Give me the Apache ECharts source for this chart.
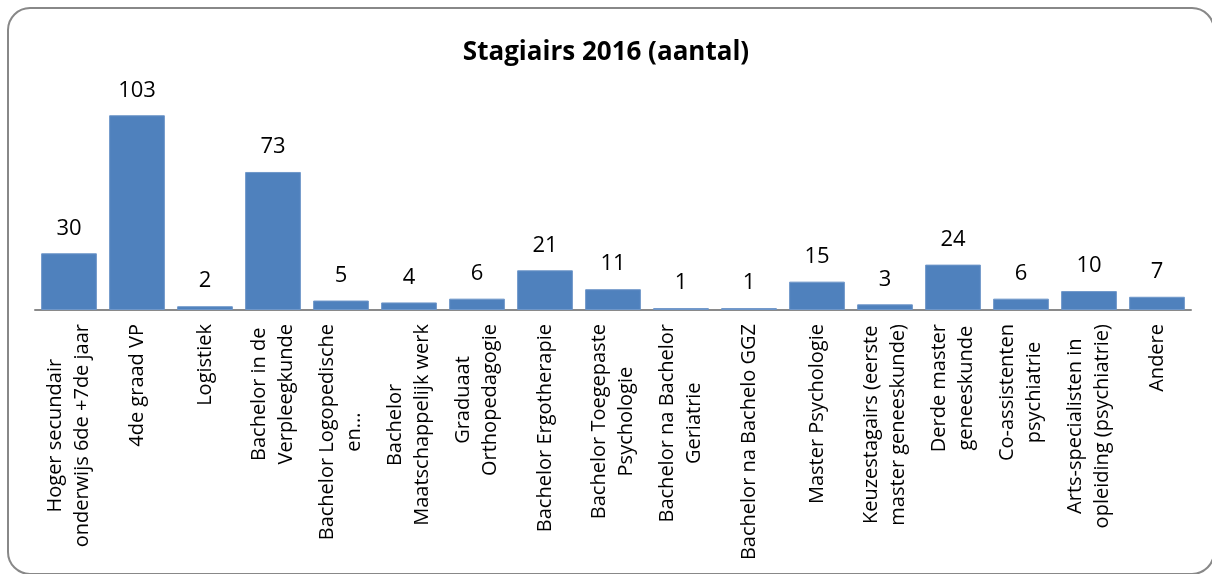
<!DOCTYPE html>
<html>
<head>
<meta charset="utf-8">
<script src="https://cdn.jsdelivr.net/npm/echarts@6/dist/echarts.min.js"></script>
<style>html,body{margin:0;padding:0;background:#fff}#c{width:1212px;height:574px}</style>
</head>
<body>
<div id="c"></div>
<script>
const titleText = 'Stagiairs 2016 (aantal)';
const categories = [
  'Hoger secundair\nonderwijs 6de +7de jaar',
  '4de graad VP',
  'Logistiek',
  'Bachelor in de\nVerpleegkunde',
  'Bachelor Logopedische\nen...',
  'Bachelor\nMaatschappelijk werk',
  'Graduaat\nOrthopedagogie',
  'Bachelor Ergotherapie',
  'Bachelor Toegepaste\nPsychologie',
  'Bachelor na Bachelor\nGeriatrie',
  'Bachelor na Bachelo GGZ',
  'Master Psychologie',
  'Keuzestagairs (eerste\nmaster geneeskunde)',
  'Derde master\ngeneeskunde',
  'Co-assistenten\npsychiatrie',
  'Arts-specialisten in\nopleiding (psychiatrie)',
  'Andere'
];
const values = [30, 103, 2, 73, 5, 4, 6, 21, 11, 1, 1, 15, 3, 24, 6, 10, 7];

const chart = echarts.init(document.getElementById('c'), null, {renderer: 'canvas'});
chart.setOption({
  animation: false,
  backgroundColor: '#fff',
  title: {
    text: titleText,
    left: 'center',
    top: 35,
    textStyle: {fontFamily: 'Open Sans', fontWeight: 'bold', fontSize: 26, color: '#000'}
  },
  graphic: [{
    type: 'rect',
    shape: {x: 8, y: 8, width: 1206, height: 566, r: 22},
    style: {fill: 'none', stroke: '#888', lineWidth: 2},
    silent: true, z: -1
  }],
  grid: {left: 35, right: 21, top: 102, bottom: 264, containLabel: false},
  xAxis: {
    type: 'category',
    data: categories,
    axisLine: {lineStyle: {color: '#8a8a8a', width: 2}},
    axisTick: {show: false},
    axisLabel: {
      interval: 0,
      rotate: 90,
      margin: 14,
      color: '#000',
      fontFamily: 'Open Sans',
      fontSize: 20,
      lineHeight: 27,
      formatter: function (v) {
        return v.split('\n').map(function (l) { return '{c|' + l + '}'; }).join('\n');
      },
      rich: {c: {align: 'center', fontFamily: 'Open Sans', fontSize: 20, lineHeight: 27, color: '#000'}}
    }
  },
  yAxis: {
    type: 'value',
    min: 0,
    max: 110,
    show: false,
    splitLine: {show: false}
  },
  series: [{
    type: 'bar',
    data: values,
    barCategoryGap: '18%',
    itemStyle: {color: '#4F81BD', borderColor: '#6f97c9', borderWidth: 1},
    label: {
      show: true,
      position: 'top',
      distance: 14,
      color: '#000',
      fontFamily: 'Open Sans',
      fontSize: 22
    }
  }]
});
</script>
</body>
</html>
